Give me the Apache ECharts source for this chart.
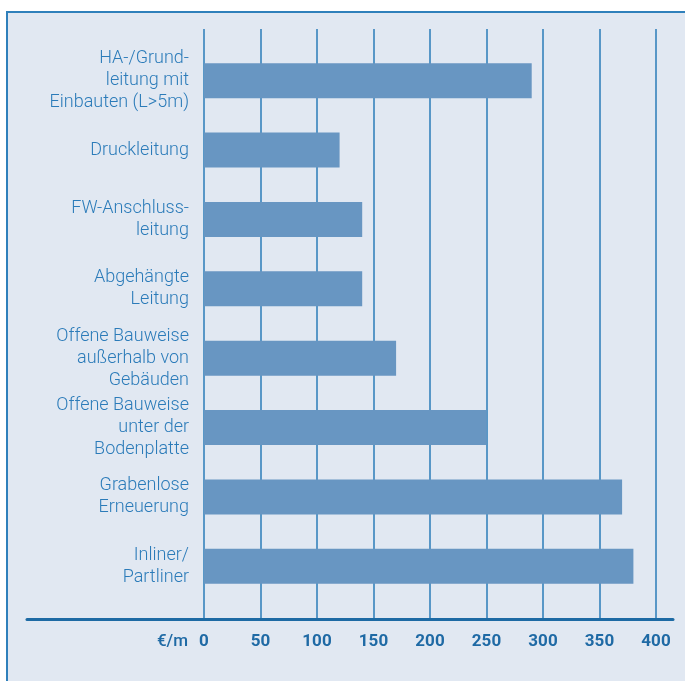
<!DOCTYPE html>
<html><head><meta charset="utf-8">
<script src="https://cdn.jsdelivr.net/npm/echarts@6/dist/echarts.min.js"></script>
<style>html,body{margin:0;padding:0;background:#fff}#c{width:685px;height:681px}</style>
</head><body><div id="c"></div>
<script>
const categories = [
  "HA-/Grund-\nleitung mit\nEinbauten (L>5m)",
  "Druckleitung",
  "FW-Anschluss-\nleitung",
  "Abgehängte\nLeitung",
  "Offene Bauweise\naußerhalb von\nGebäuden",
  "Offene Bauweise\nunter der\nBodenplatte",
  "Grabenlose\nErneuerung",
  "Inliner/\nPartliner"
];
const costs = [290, 120, 140, 140, 170, 250, 370, 380];
const axisMin = 0, axisMax = 400, axisStep = 50;
const unitLabel = "€/m";

const font = "Roboto, 'Noto Sans', sans-serif";
const chart = echarts.init(document.getElementById('c'), null, {renderer: 'canvas'});
chart.setOption({
  backgroundColor: '#ffffff',
  animation: false,
  graphic: [{
    type: 'rect', z: -100, silent: true,
    shape: {x: 7, y: 12, width: 700, height: 700},
    style: {fill: '#e1e8f2', stroke: '#2f80bb', lineWidth: 2}
  }],
  grid: [
    {left: 204, right: 29, top: 46, bottom: 80},
    {left: 204, right: 29, top: 29, bottom: 62},
    {left: 27, right: 12, top: 29, bottom: 62}
  ],
  xAxis: [
    {gridIndex: 0, type: 'value', min: axisMin, max: axisMax, show: false},
    {gridIndex: 1, type: 'value', min: axisMin, max: axisMax, interval: axisStep,
      axisLine: {show: false}, axisTick: {show: false},
      splitLine: {show: true, lineStyle: {color: '#2a7cb8', width: 1.5}},
      axisLabel: {margin: 14, color: '#1f6aa5', fontSize: 17, fontWeight: 'bold', fontFamily: font},
      name: '{u|' + unitLabel + '}', nameLocation: 'start', nameGap: 16,
      nameTextStyle: {verticalAlign: 'top',
        rich: {u: {color: '#1f6aa5', fontSize: 17, fontWeight: 500, fontFamily: font, padding: [14, 0, 0, 0]}}}
    },
    {gridIndex: 2, type: 'value', min: 0, max: 1, show: true,
      axisLine: {show: true, lineStyle: {color: '#1d6aa4', width: 3}},
      axisTick: {show: false}, axisLabel: {show: false}, splitLine: {show: false}}
  ],
  yAxis: [
    {gridIndex: 0, type: 'category', data: categories, inverse: true,
      axisLine: {show: false}, axisTick: {show: false}, splitLine: {show: false},
      axisLabel: {margin: 15, color: '#2b7bb9', fontSize: 18, fontWeight: 300, lineHeight: 22, fontFamily: font, align: 'right'}
    },
    {gridIndex: 1, type: 'value', show: false, min: 0, max: 1},
    {gridIndex: 2, type: 'value', show: false, min: 0, max: 1}
  ],
  series: [{
    type: 'bar', xAxisIndex: 0, yAxisIndex: 0, data: costs, barWidth: 35,
    itemStyle: {color: '#6896c2'}, z: 5
  }]
});
</script></body></html>
